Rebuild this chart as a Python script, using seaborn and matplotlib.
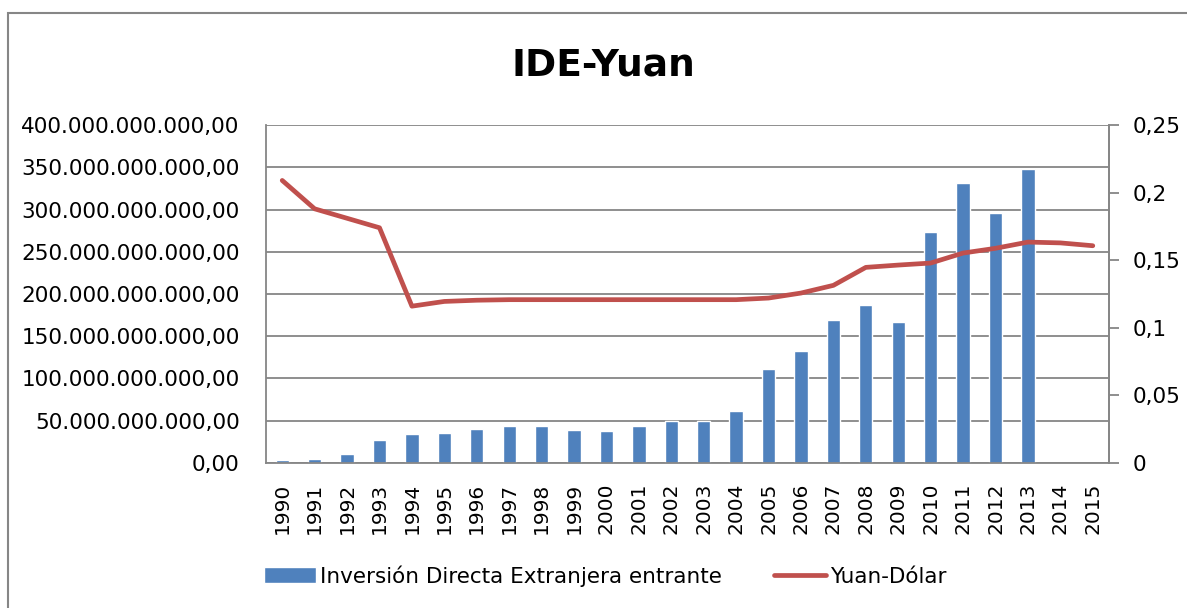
import numpy as np
import pandas as pd
import matplotlib
matplotlib.use("Agg")
import matplotlib.pyplot as plt
import seaborn as sns
from matplotlib.ticker import FuncFormatter, MultipleLocator
from matplotlib.patches import Patch, Rectangle
from matplotlib.lines import Line2D

# Data
years = [str(y) for y in range(1990, 2016)]
fdi = [3.5e9, 4.4e9, 11.2e9, 27.5e9, 33.8e9, 35.8e9, 40.2e9, 44.2e9, 43.8e9,
       38.8e9, 38.4e9, 44.2e9, 49.3e9, 49.5e9, 62.1e9, 111.0e9, 133.0e9,
       169.4e9, 186.8e9, 167.1e9, 272.9e9, 331.6e9, 295.6e9, 347.8e9,
       np.nan, np.nan]
yuan_usd = [0.209, 0.188, 0.181, 0.174, 0.116, 0.1195, 0.1204, 0.1208, 0.1208,
            0.1208, 0.1208, 0.1208, 0.1208, 0.1208, 0.1208, 0.122, 0.1257,
            0.1314, 0.1447, 0.1464, 0.1479, 0.1553, 0.1588, 0.1634, 0.1628,
            0.1607]

bar_label = "Inversión Directa Extranjera entrante"
line_label = "Yuan-Dólar"
blue = "#4F81BD"
red = "#C0504D"
grey = "#868686"

df = pd.DataFrame({"year": years, "fdi": fdi, "rate": yuan_usd})

sns.set_style("white")
plt.rcParams["font.family"] = ["DejaVu Sans"]
plt.rcParams["text.color"] = "black"
plt.rcParams["xtick.labelcolor"] = "black"
plt.rcParams["ytick.labelcolor"] = "black"

fig = plt.figure(figsize=(11.87, 6.08), dpi=100)
ax = fig.add_axes([0.2241, 0.2385, 0.7102, 0.5559])

sns.barplot(data=df, x="year", y="fdi", color=blue, saturation=1,
            width=0.41, ax=ax)
ax.set_xlim(-0.5, len(years) - 0.5)
ax.set_ylim(0, 400e9)
ax.yaxis.set_major_locator(MultipleLocator(50e9))
ax.yaxis.set_major_formatter(FuncFormatter(
    lambda v, p: f"{v:,.2f}".replace(",", "X").replace(".", ",").replace("X", ".")))
ax.grid(axis="y", color=grey, linewidth=1.3)
ax.set_axisbelow(True)
ax.set_xlabel("")
ax.set_ylabel("")
ax.tick_params(axis="y", length=0, pad=19, labelsize=15.5, labelcolor="black")
ax.tick_params(axis="x", length=0, pad=14, labelsize=14.5, rotation=90,
               labelcolor="black")
for s in ["left", "bottom", "right"]:
    ax.spines[s].set_color(grey)
    ax.spines[s].set_linewidth(1.3)
ax.spines["top"].set_visible(False)

ax2 = ax.twinx()
sns.lineplot(x=np.arange(len(years)), y=df["rate"], color=red, linewidth=3.4,
             ax=ax2)
ax2.set_ylim(0, 0.25)
ax2.yaxis.set_major_locator(MultipleLocator(0.05))
ax2.yaxis.set_major_formatter(FuncFormatter(
    lambda v, p: f"{round(v, 2):g}".replace(".", ",")))
ax2.set_ylabel("")
ax2.tick_params(axis="y", length=7, width=1.3, color=grey, pad=10,
                labelsize=15.5, labelcolor="black")
for s in ["left", "bottom", "top"]:
    ax2.spines[s].set_visible(False)
ax2.spines["right"].set_color(grey)
ax2.spines["right"].set_linewidth(1.3)
ax2.set_xlim(-0.5, len(years) - 0.5)

fig.text(0.508, 0.893, "IDE-Yuan", ha="center", va="center",
         fontsize=27, fontweight="bold", color="black")

handles = [Patch(facecolor=blue, label=bar_label),
           Line2D([0], [0], color=red, linewidth=3.4, label=line_label)]
fig.legend(handles=handles, loc="center", bbox_to_anchor=(0.51, 0.053),
           ncol=2, frameon=False, fontsize=15.5, handlelength=2.4,
           handletextpad=0.2, columnspacing=2.4, labelcolor="black")

fig.add_artist(Rectangle((0.0067, -0.05), 1.2, 1.0286, transform=fig.transFigure,
                         fill=False, edgecolor=grey, linewidth=1.5))

fig.savefig("out.png", dpi=100)
